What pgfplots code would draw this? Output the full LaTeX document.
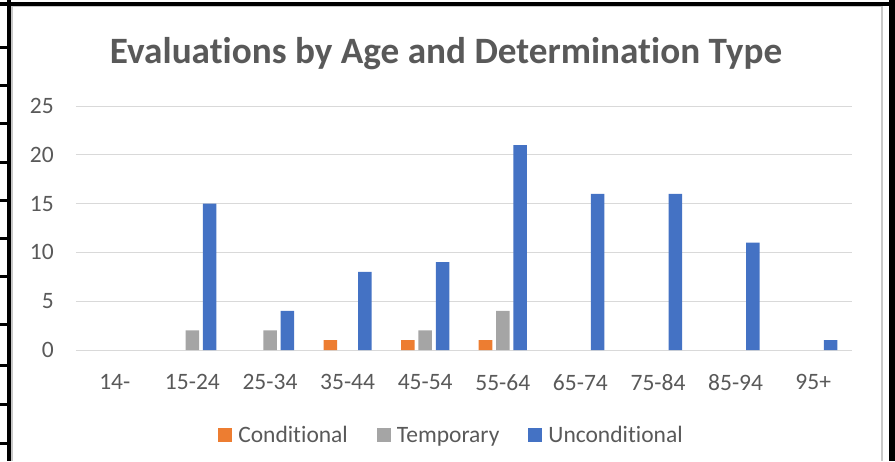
\documentclass[border=0pt]{standalone}
\usepackage{pgfplots}
\pgfplotsset{compat=1.18}
\usepackage{fontspec}
\setmainfont{Carlito}[Ligatures=NoCommon]
\definecolor{cOrange}{HTML}{ED7D31}
\definecolor{cGray}{HTML}{A5A5A5}
\definecolor{cBlue}{HTML}{4472C4}
\definecolor{txt}{HTML}{595959}
\definecolor{gridc}{HTML}{D9D9D9}
\definecolor{chartborder}{HTML}{C8C8C8}
\begin{document}
\begin{tikzpicture}
\path[use as bounding box] (0pt,0pt) rectangle (895pt,-461pt);
% table lines around the chart
\fill[black] (889pt,0pt) rectangle (895pt,-461pt);
\fill[black] (7pt,-461pt) rectangle (11pt,0pt);
\fill[black] (0pt,-2pt) rectangle (889pt,-5.5pt);
\foreach \yy in {47,85,123,162,200,238,276,324,365,404,443}
  \fill[black] (0pt,-\yy pt+1.5pt) rectangle (8pt,-\yy pt-1.5pt);
% chart border
\draw[line width=1.5pt, color=chartborder] (12pt,-461pt) -- (12pt,-6.5pt) -- (882pt,-6.5pt) -- (882pt,-461pt);
% title
\node[font=\bfseries\fontsize{37.2}{41}\selectfont, text=txt, anchor=base, inner sep=0pt] at (446pt,-63pt) {Evaluations by Age and Determination Type};
\begin{axis}[
  at={(76pt,-350pt)}, anchor=south west,
  scale only axis, width=776pt, height=244pt,
  xmin=-0.5, xmax=9.5, ymin=0, ymax=25,
  ybar, bar width=0.174,
  ytick={0,5,...,25},
  xtick={0,...,9},
  xticklabels={14-,15-24,25-34,35-44,45-54,55-64,65-74,75-84,85-94,95+},
  ymajorgrids, grid style={line width=1pt, gridc},
  axis line style={draw=none},
  major tick length=0pt,
  /pgf/number format/assume math mode=true,
  tick label style={font=\fontsize{23.5}{26}\selectfont, text=txt},
  yticklabel style={inner sep=0pt, xshift=-22pt},
  xticklabel style={inner sep=0pt, yshift=-24pt},
  legend columns=3,
  legend image code/.code={\fill[#1] (0pt,-7pt) rectangle (14pt,7pt);},
  legend style={at={(0.4826,-0.348)}, anchor=center, draw=none, fill=none,
    font=\fontsize{23.5}{26}\selectfont, text=txt, inner sep=0pt,
    nodes={inner sep=0pt, text height=15.1pt, text depth=0pt},
    /tikz/every odd column/.append style={column sep=6pt},
    /tikz/every even column/.append style={column sep=29pt}},
]
\addplot[fill=cOrange, draw=none, bar shift=-0.223] coordinates {(3,1) (4,1) (5,1)};
\addplot[fill=cGray, draw=none, bar shift=0] coordinates {(1,2) (2,2) (4,2) (5,4)};
\addplot[fill=cBlue, draw=none, bar shift=0.223] coordinates {(1,15) (2,4) (3,8) (4,9) (5,21) (6,16) (7,16) (8,11) (9,1)};
\legend{Conditional,Temporary,Unconditional}
\end{axis}
\end{tikzpicture}
\end{document}
